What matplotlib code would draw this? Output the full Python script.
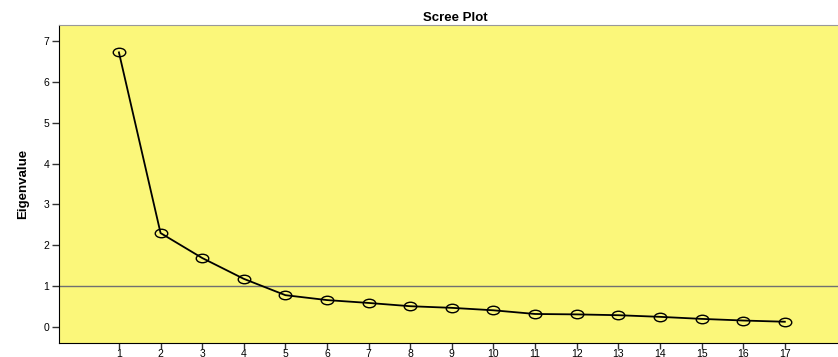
import matplotlib
matplotlib.use("Agg")
import matplotlib.pyplot as plt
from matplotlib.path import Path
from matplotlib.transforms import Affine2D

# 데이터
components = list(range(1, 18))
eigenvalues = [6.72, 2.30, 1.69, 1.18, 0.78, 0.66, 0.59, 0.51, 0.47,
               0.41, 0.32, 0.31, 0.29, 0.25, 0.20, 0.16, 0.13]
y_ticks = [0, 1, 2, 3, 4, 5, 6, 7]
cutoff = 1

plt.rcParams['font.family'] = ['Liberation Sans', 'DejaVu Sans']

# 납작한 원 마커 (원본처럼 가로로 긴 타원)
ellipse = Path.unit_circle().transformed(Affine2D().scale(1.0, 0.68))

fig = plt.figure(figsize=(8.38, 3.57), dpi=100)
ax = fig.add_axes([59 / 838, 14 / 357, 792 / 838, 318 / 357])
ax.set_facecolor('#fbf77a')

ax.axhline(cutoff, color='#707070', lw=1.0, zorder=1)
ax.plot(components, eigenvalues, color='black', lw=1.3, marker=ellipse,
        markersize=9, markerfacecolor='none', markeredgecolor='black',
        markeredgewidth=1.0, zorder=3)

ax.set_xlim(-0.44, 18.59)
ax.set_ylim(-0.39, 7.39)
ax.set_xticks(components)
ax.set_yticks(y_ticks)
ax.tick_params(direction='out', length=5, width=1, color='#333333',
               labelsize=7.5, pad=2)
ax.tick_params(axis='x', length=4, pad=0.5)

ax.spines['left'].set_color('black')
ax.spines['bottom'].set_color('black')
ax.spines['top'].set_color('#999999')
ax.spines['right'].set_visible(False)

ax.set_title('Scree Plot', fontsize=9.5, fontweight='bold', pad=3,
             x=(455 - 59) / 792)
ax.set_ylabel('Eigenvalue', fontsize=9.5, fontweight='bold',
              family=['Liberation Sans Narrow', 'Liberation Sans'],
              labelpad=10)

plt.savefig('out.png', dpi=100)
